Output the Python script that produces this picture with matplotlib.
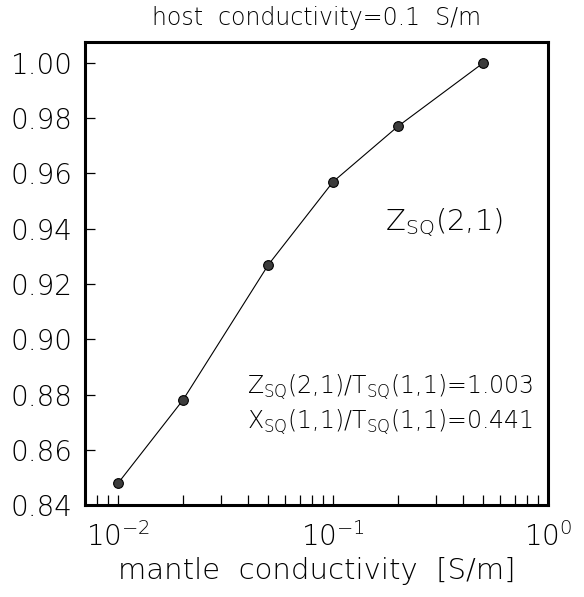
import matplotlib
matplotlib.use('Agg')
import matplotlib.pyplot as plt
from matplotlib.ticker import LogLocator, FixedLocator, FormatStrFormatter, NullFormatter
import numpy as np

# values
mantle_cond = [0.01, 0.02, 0.05, 0.1, 0.2, 0.5]
z_ratio = [0.848, 0.878, 0.927, 0.957, 0.977, 1.000]
y_ticks = [0.84, 0.86, 0.88, 0.90, 0.92, 0.94, 0.96, 0.98, 1.00]
title = 'host  conductivity=0.1  S/m'
x_label = 'mantle  conductivity  [S/m]'
curve_label = r'Z$_{SQ}$(2,1)'
ratio_lines = [r'Z$_{SQ}$(2,1)/T$_{SQ}$(1,1)=1.003',
               r'X$_{SQ}$(1,1)/T$_{SQ}$(1,1)=0.441']

plt.rcParams['font.family'] = ['DejaVu Sans']
plt.rcParams['font.weight'] = 'light'
plt.rcParams['axes.titleweight'] = 'light'
plt.rcParams['axes.labelweight'] = 'light'
plt.rcParams['mathtext.default'] = 'regular'

fig = plt.figure(figsize=(5.84, 5.97), dpi=100)
ax = fig.add_axes([0.1455, 0.154, 0.793, 0.7755])

ax.plot(mantle_cond, z_ratio, color='black', lw=0.8, marker='o', ms=7,
        mfc='#3c3c3c', mec='black', mew=0.8)

ax.set_xscale('log')
ax.set_xlim(0.007, 1.0)
ax.set_ylim(0.84, 1.0075)

ax.xaxis.set_major_locator(LogLocator(base=10, numticks=10))
ax.xaxis.set_minor_locator(LogLocator(base=10, subs=np.arange(2, 10), numticks=10))
ax.xaxis.set_minor_formatter(NullFormatter())
ax.yaxis.set_major_locator(FixedLocator(y_ticks))
ax.yaxis.set_major_formatter(FormatStrFormatter('%.2f'))

ax.tick_params(axis='both', which='both', direction='in', length=7.5, width=0.9,
               top=False, right=False, labelsize=20, pad=9)
ax.tick_params(axis='x', which='major', pad=12)

for s in ax.spines.values():
    s.set_linewidth(2.2)

ax.set_title(title, fontsize=17, pad=12, fontweight='light')
ax.set_xlabel(x_label, fontsize=21, labelpad=4, fontweight='light')

ax.text(0.648, 0.611, curve_label, transform=ax.transAxes, fontsize=21,
        ha='left', va='center')
ax.text(0.968, 0.255, ratio_lines[0], transform=ax.transAxes, fontsize=17,
        ha='right', va='center')
ax.text(0.968, 0.179, ratio_lines[1], transform=ax.transAxes, fontsize=17,
        ha='right', va='center')

fig.savefig('out.png', dpi=100)
